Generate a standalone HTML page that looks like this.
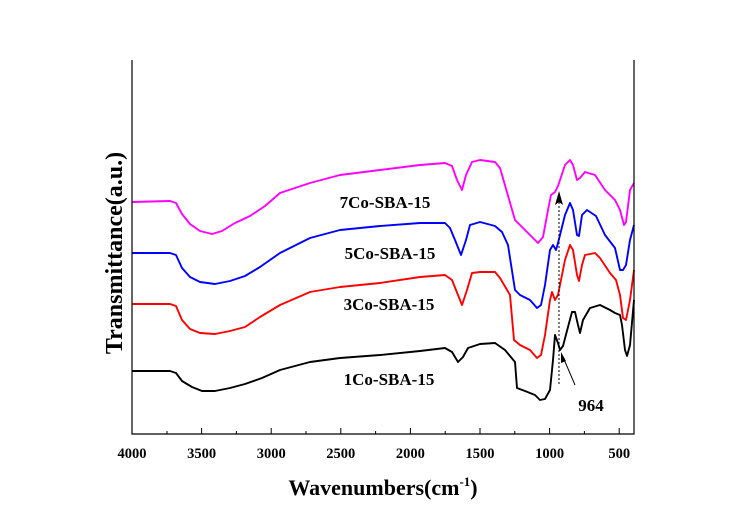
<!DOCTYPE html>
<html><head><meta charset="utf-8"><style>
html,body{margin:0;padding:0;background:#fff;}
svg{display:block;}
text{font-family:"Liberation Serif",serif;font-weight:bold;fill:#000;}
</style></head><body>
<svg width="739" height="523" viewBox="0 0 739 523" xmlns="http://www.w3.org/2000/svg">
<g fill="none" stroke-width="1.9" stroke-linejoin="round">
<polyline stroke="#ff00ff" points="132,202 170,201 176,203 182,214 190,224 200,231 212,234 222,231 235,223 250,216 265,206 280,193 310,183 340,175 380,170 420,165 445,163 452,166 457,180 462,190 466,175 472,162 480,160 495,162 500,168 515,220 520,225 530,235 538,243 543,237 548,210 551,195 555,192 558,186 565,165 570,160 573,165 577,180 580,178 585,172 595,175 605,190 615,200 620,210 624,225 626,222 630,190 634,183"/>
<polyline stroke="#0000ff" points="132,253 170,253 176,255 182,268 190,277 200,282 215,284 230,281 245,276 260,267 280,253 310,238 340,230 380,226 420,223 445,223 450,228 455,240 461,255 466,240 470,225 480,222 495,226 502,232 508,245 515,290 520,295 530,300 537,308 541,305 545,285 550,250 553,245 556,250 558,243 565,215 570,203 573,210 577,235 579,236 582,215 587,210 596,216 605,235 615,248 620,270 623,270 626,265 630,240 634,225"/>
<polyline stroke="#ff0000" points="132,304 170,304 176,306 182,320 190,329 200,333 215,334 230,331 245,327 260,317 280,305 310,292 340,287 380,283 420,277 445,275 452,280 456,290 462,305 467,290 472,273 480,272 495,272 500,278 510,295 514,340 520,345 530,350 537,358 541,355 545,335 550,300 552,292 555,300 558,295 565,260 570,245 573,250 577,275 579,281 582,265 585,255 595,253 600,258 610,273 616,280 620,295 623,318 626,320 630,300 634,270"/>
<polyline stroke="#000000" points="132,371 170,371 176,373 182,381 192,387 202,391 215,391 230,388 245,384 262,378 280,370 310,362 340,358 380,355 420,351 445,348 452,352 458,362 463,357 468,348 480,344 495,343 505,350 515,362 517,388 525,391 535,395 540,400 545,399 550,390 553,360 555,335 558,343 560,350 563,346 568,327 572,312 575,312 578,325 580,333 583,320 590,308 600,305 610,310 615,313 620,315 622,325 625,350 627,356 630,345 634,300"/>
</g>
<g stroke="#000" stroke-width="1.2" fill="none">
<polyline points="132,60 132,434 634,434 634,60"/>
</g>
<g stroke="#000" stroke-width="1">
<line x1="132" y1="434" x2="132" y2="428"/><line x1="167" y1="434" x2="167" y2="431"/>
<line x1="201.6" y1="434" x2="201.6" y2="428"/><line x1="236.4" y1="434" x2="236.4" y2="431"/>
<line x1="271.2" y1="434" x2="271.2" y2="428"/><line x1="306" y1="434" x2="306" y2="431"/>
<line x1="340.8" y1="434" x2="340.8" y2="428"/><line x1="375.6" y1="434" x2="375.6" y2="431"/>
<line x1="410.4" y1="434" x2="410.4" y2="428"/><line x1="445.2" y1="434" x2="445.2" y2="431"/>
<line x1="480" y1="434" x2="480" y2="428"/><line x1="514.8" y1="434" x2="514.8" y2="431"/>
<line x1="549.6" y1="434" x2="549.6" y2="428"/><line x1="584.4" y1="434" x2="584.4" y2="431"/>
<line x1="619.2" y1="434" x2="619.2" y2="428"/>
</g>
<g font-size="14.5" text-anchor="middle">
<text x="132" y="458">4000</text><text x="201.6" y="458">3500</text><text x="271.2" y="458">3000</text>
<text x="340.8" y="458">2500</text><text x="410.4" y="458">2000</text><text x="480" y="458">1500</text>
<text x="549.6" y="458">1000</text><text x="619.2" y="458">500</text>
</g>
<text x="383" y="495" font-size="22" text-anchor="middle">Wavenumbers(cm<tspan font-size="13" dy="-9">-1</tspan><tspan dy="9">)</tspan></text>
<text transform="translate(122,253) rotate(-90)" font-size="24" text-anchor="middle">Transmittance(a.u.)</text>
<g font-size="17" text-anchor="middle">
<text x="385" y="208">7Co-SBA-15</text>
<text x="390" y="259">5Co-SBA-15</text>
<text x="389" y="310">3Co-SBA-15</text>
<text x="389" y="385">1Co-SBA-15</text>
<text x="591" y="411">964</text>
</g>
<line x1="559" y1="384" x2="559" y2="200" stroke="#000" stroke-width="1" stroke-dasharray="2,2"/>
<polygon points="559,191 555,205 559,202 563,205" fill="#000"/>
<line x1="575" y1="385" x2="563" y2="357" stroke="#000" stroke-width="1"/>
<polygon points="561,352 561,363 566,361" fill="#000"/>
</svg>
</body></html>
